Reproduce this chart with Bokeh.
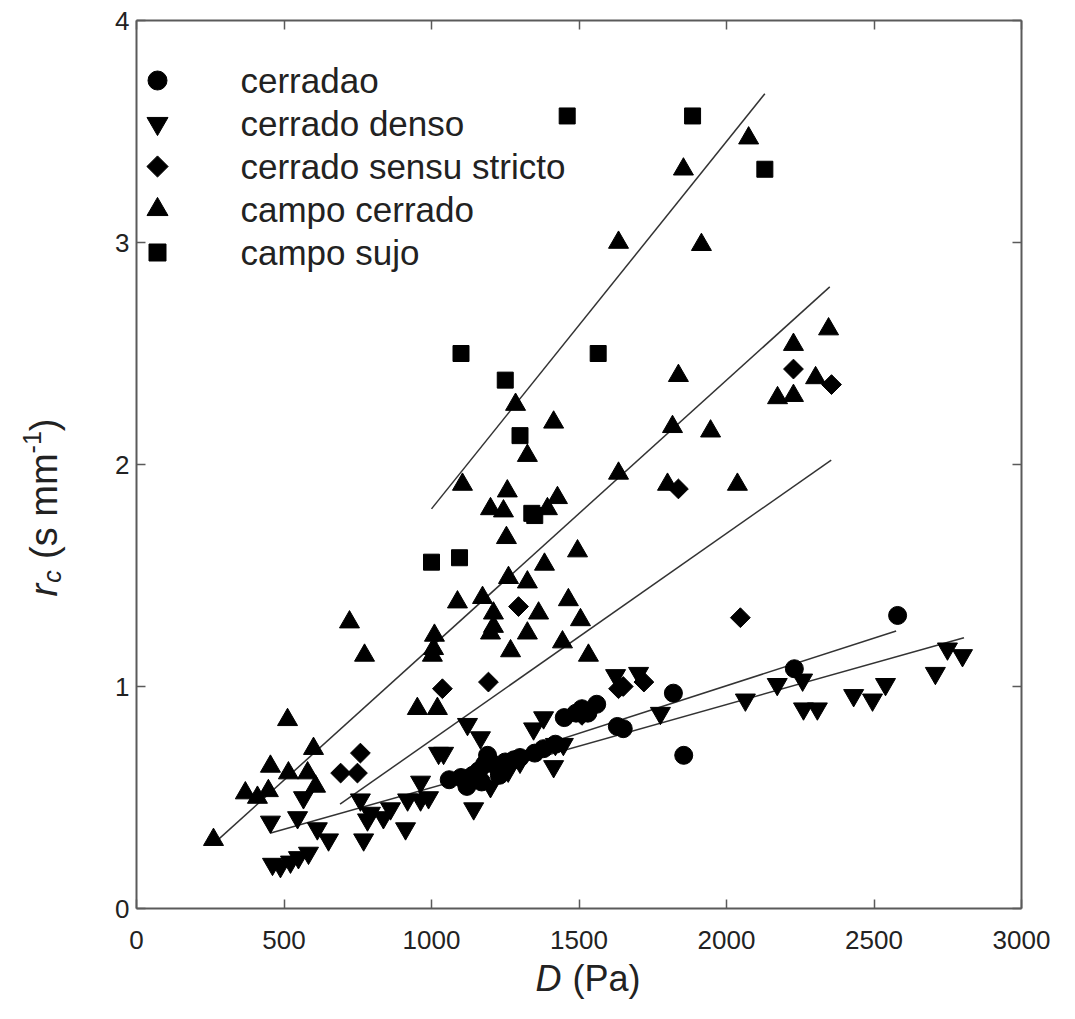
import math
from bokeh.plotting import figure
from bokeh.models import Range1d, LinearAxis, Label, FixedTicker
from bokeh.embed import file_html
from bokeh.resources import INLINE

# ---------------- data ----------------
cerradao_x = [1060, 1100, 1120, 1140, 1160, 1170, 1180, 1190, 1200, 1220, 1230, 1250, 1280, 1300,
              1350, 1380, 1420, 1450, 1490, 1510, 1530, 1560, 1630, 1650, 1820, 1855, 2230, 2580]
cerradao_y = [0.58, 0.59, 0.55, 0.60, 0.62, 0.57, 0.65, 0.69, 0.66, 0.64, 0.60, 0.66, 0.67, 0.68,
              0.70, 0.72, 0.74, 0.86, 0.88, 0.90, 0.88, 0.92, 0.82, 0.81, 0.97, 0.69, 1.08, 1.32]

denso_x = [461, 488, 522, 549, 583, 454, 546, 566, 613, 651, 770, 759, 783, 793, 837, 861, 912, 919,
           963, 990, 963, 1024, 1041, 1122, 1166, 1143, 1200, 1260, 1300, 1346, 1380, 1414, 1420, 1447,
           1624, 1702, 1776, 2064, 2172, 2258, 2261, 2308, 2431, 2495, 2539, 2708, 2749, 2800]
denso_y = [0.20, 0.19, 0.21, 0.23, 0.25, 0.39, 0.41, 0.50, 0.36, 0.31, 0.31, 0.49, 0.40, 0.43, 0.41,
           0.45, 0.36, 0.49, 0.49, 0.50, 0.57, 0.70, 0.70, 0.83, 0.77, 0.45, 0.55, 0.62, 0.66, 0.81,
           0.86, 0.64, 0.74, 0.74, 1.05, 1.06, 0.88, 0.94, 1.01, 1.03, 0.90, 0.90, 0.96, 0.94, 1.01,
           1.06, 1.17, 1.14]

stricto_x = [692, 749, 759, 1037, 1193, 1295, 1510, 1634, 1650, 1720, 1837, 2047, 2227, 2356]
stricto_y = [0.61, 0.61, 0.70, 0.99, 1.02, 1.36, 0.87, 0.99, 1.00, 1.02, 1.89, 1.31, 2.43, 2.36]

campo_cerrado_x = [261, 369, 410, 447, 454, 512, 515, 580, 600, 607, 722, 773, 952, 1020, 1003, 1007,
                   1010, 1088, 1105, 1173, 1200, 1200, 1210, 1210, 1244, 1254, 1257, 1261, 1268, 1285,
                   1325, 1325, 1325, 1363, 1383, 1393, 1414, 1427, 1444, 1464, 1495, 1505, 1532, 1634,
                   1634, 1800, 1817, 1837, 1854, 1915, 1946, 2037, 2075, 2173, 2227, 2227, 2302, 2346]
campo_cerrado_y = [0.31, 0.52, 0.50, 0.53, 0.64, 0.85, 0.61, 0.61, 0.72, 0.55, 1.29, 1.14, 0.90, 0.90,
                   1.14, 1.17, 1.23, 1.38, 1.91, 1.40, 1.24, 1.80, 1.27, 1.33, 1.79, 1.67, 1.88, 1.49,
                   1.16, 2.27, 1.24, 1.47, 2.04, 1.33, 1.55, 1.80, 2.19, 1.85, 1.20, 1.39, 1.61, 1.30,
                   1.14, 1.96, 3.00, 1.91, 2.17, 2.40, 3.33, 2.99, 2.15, 1.91, 3.47, 2.30, 2.31, 2.54,
                   2.39, 2.61]

campo_sujo_x = [1000, 1095, 1100, 1250, 1300, 1340, 1350, 1460, 1565, 1885, 2130]
campo_sujo_y = [1.56, 1.58, 2.50, 2.38, 2.13, 1.78, 1.77, 3.57, 2.50, 3.57, 3.33]

# regression lines: [x_start, x_end], [y_start, y_end]
fit_sujo_x, fit_sujo_y = [1000, 2130], [1.80, 3.67]
fit_campo_x, fit_campo_y = [260, 2350], [0.29, 2.80]
fit_stricto_x, fit_stricto_y = [690, 2355], [0.47, 2.02]
fit_cerradao_x, fit_cerradao_y = [1060, 2575], [0.60, 1.25]
fit_denso_x, fit_denso_y = [455, 2805], [0.34, 1.22]

legend_labels = ["cerradao", "cerrado denso", "cerrado sensu stricto", "campo cerrado", "campo sujo"]
x_ticks = [0, 500, 1000, 1500, 2000, 2500, 3000]
y_ticks = [0, 1, 2, 3, 4]
X_MIN, X_MAX, Y_MIN, Y_MAX = 0, 3000, 0, 4

# ---------------- layout (pixels) ----------------
W, H = 1059, 1003
BL, BR, BT, BB = 136, 1021, 20, 908       # plot box in canvas pixels
FONT = "Liberation Sans"
INK = "#222222"
FRAME = "#5a5a5a"

kx = (X_MAX - X_MIN) / (BR - BL)
ky = (Y_MAX - Y_MIN) / (BB - BT)
def X(px):
    return X_MIN + (px - BL) * kx
def Y(py):
    return Y_MIN + (BB - py) * ky

p = figure(width=W, height=H, output_backend="svg", toolbar_location=None, title=None,
           x_range=Range1d(X(0), X(W)), y_range=Range1d(Y(H), Y(0)),
           min_border_left=0, min_border_right=0, min_border_top=0, min_border_bottom=0)
p.xgrid.grid_line_color = None
p.ygrid.grid_line_color = None
p.outline_line_color = None
p.background_fill_color = "white"
p.border_fill_color = "white"

def style_axis(ax, ticks, bounds, loc, show_labels, standoff):
    ax.ticker = FixedTicker(ticks=ticks)
    ax.fixed_location = loc
    ax.bounds = bounds
    ax.axis_line_color = FRAME
    ax.axis_line_width = 2
    ax.major_tick_in = 9
    ax.major_tick_out = 0
    ax.major_tick_line_color = FRAME
    ax.major_tick_line_width = 1.5
    ax.minor_tick_line_color = None
    ax.major_label_text_font = FONT
    ax.major_label_text_font_size = "26px"
    ax.major_label_text_color = INK if show_labels else None
    ax.major_label_standoff = standoff
    ax.axis_label = None

style_axis(p.xaxis[0], x_ticks, (X_MIN, X_MAX), Y_MIN, True, 22)
style_axis(p.yaxis[0], y_ticks, (Y_MIN, Y_MAX), X_MIN, True, 7)
top = LinearAxis()
style_axis(top, x_ticks, (X_MIN, X_MAX), Y_MAX, False, 0)
right = LinearAxis()
style_axis(right, y_ticks, (Y_MIN, Y_MAX), X_MAX, False, 0)
p.add_layout(top, "above")
p.add_layout(right, "right")

# regression lines
for fx, fy in [(fit_sujo_x, fit_sujo_y), (fit_campo_x, fit_campo_y), (fit_stricto_x, fit_stricto_y),
               (fit_cerradao_x, fit_cerradao_y), (fit_denso_x, fit_denso_y)]:
    p.line(fx, fy, line_color="#333333", line_width=1.5)

# scatter series: (marker, size, angle)
styles = [("circle", 18, 0.0), ("inverted_triangle", 20, 0.0), ("square", 14, math.pi / 4),
          ("triangle", 20, 0.0), ("square", 16, 0.0)]
series = [(cerradao_x, cerradao_y), (denso_x, denso_y), (stricto_x, stricto_y),
          (campo_cerrado_x, campo_cerrado_y), (campo_sujo_x, campo_sujo_y)]
for (sx, sy), (mk, sz, ang) in zip(series, styles):
    p.scatter(sx, sy, marker=mk, size=sz, angle=ang, color="black")

# legend (drawn in the box, top-left)
row0, pitch = 80, 43
for i, (lab, (mk, sz, ang)) in enumerate(zip(legend_labels, styles)):
    py = row0 + i * pitch
    p.scatter([X(157)], [Y(py)], marker=mk, size=sz + 1, angle=ang, color="black")
    p.add_layout(Label(x=X(240), y=Y(py), text=lab, text_font=FONT, text_font_size="35px",
                       text_color=INK, text_baseline="middle", text_align="left"))

# ---- axis titles built from pieces (italic symbols, sub/superscripts) ----
AF = 36
SF = 24
p.add_layout(Label(x=X(535), y=Y(978), text="D", text_font=FONT, text_font_style="italic",
                   text_font_size=f"{AF}px", text_color=INK, text_baseline="middle", text_align="left"))
p.add_layout(Label(x=X(572), y=Y(978), text="(Pa)", text_font=FONT,
                   text_font_size=f"{AF}px", text_color=INK, text_baseline="middle", text_align="left"))

YF = 38
YS = 25
cx = 43
s = 596  # starting pixel row (text runs upward)
pieces = [("r", YF, "italic", 0, 0.36 * YF),
          ("c", YS, "italic", 8, 0.5 * YS + 0.3 * YF),
          ("(s mm", YF, "normal", 0, 2.777 * YF),
          ("-1", YS, "normal", -12, 0.889 * YS),
          (")", YF, "normal", 0, 0.333 * YF)]
for txt, fs, style, off, adv in pieces:
    p.add_layout(Label(x=X(cx + off), y=Y(s), text=txt, text_font=FONT, text_font_style=style,
                       text_font_size=f"{fs}px", text_color=INK, angle=math.pi / 2,
                       text_baseline="middle", text_align="left"))
    s -= adv

open("out.html", "w").write(file_html(p, INLINE))
